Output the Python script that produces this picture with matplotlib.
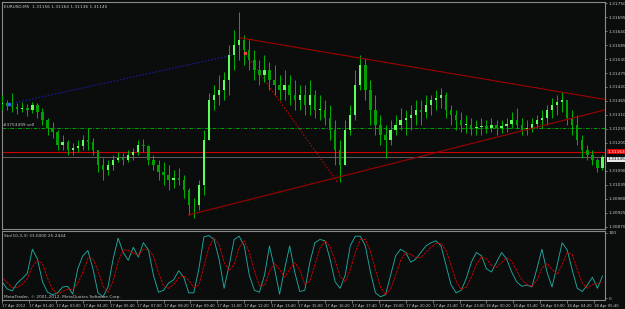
import numpy as np
import matplotlib.pyplot as plt

# EURUSD M5, 17-18 Apr 2012. One entry per 15 minutes (3 M5 bars).
# Prices are given in points (0.00001) above 1.30000.
first_open_pt = 1361
highs_pt = [1369, 1389, 1369, 1397, 1357, 1361, 1353, 1361, 1357, 1338,
            1298, 1283, 1251, 1231, 1212, 1200, 1212, 1231, 1259, 1220,
            1173, 1141, 1133, 1153, 1165, 1161, 1173, 1180, 1212, 1216,
            1192, 1153, 1133, 1125, 1114, 1094, 1102, 1074, 1023, 984,
            1055, 1251, 1397, 1428, 1467, 1479, 1585, 1644, 1715, 1624,
            1605, 1566, 1526, 1546, 1518, 1507, 1467, 1487, 1467, 1448,
            1428, 1428, 1448, 1408, 1389, 1369, 1349, 1290, 1212, 1290,
            1349, 1487, 1546, 1534, 1448, 1389, 1310, 1271, 1290, 1310,
            1338, 1330, 1349, 1369, 1369, 1389, 1389, 1408, 1416, 1400,
            1349, 1330, 1322, 1310, 1298, 1290, 1298, 1290, 1298, 1290,
            1290, 1298, 1322, 1338, 1298, 1290, 1298, 1310, 1330, 1349,
            1377, 1389, 1400, 1369, 1330, 1310, 1231, 1192, 1173, 1141,
            1153]
lows_pt = [1338, 1330, 1330, 1322, 1314, 1322, 1306, 1318, 1298, 1271,
           1231, 1220, 1173, 1173, 1153, 1153, 1165, 1173, 1173, 1153,
           1086, 1055, 1074, 1094, 1125, 1114, 1125, 1133, 1153, 1165,
           1114, 1094, 1055, 1035, 1015, 1023, 1035, 984, 917, 905,
           937, 996, 1212, 1330, 1349, 1369, 1389, 1487, 1526, 1507,
           1487, 1448, 1428, 1440, 1408, 1389, 1369, 1369, 1349, 1330,
           1330, 1310, 1310, 1298, 1290, 1271, 1212, 1114, 1047, 1114,
           1231, 1290, 1408, 1369, 1271, 1231, 1192, 1141, 1192, 1231,
           1251, 1231, 1251, 1271, 1271, 1298, 1310, 1330, 1338, 1298,
           1271, 1251, 1243, 1239, 1231, 1231, 1231, 1239, 1243, 1231,
           1239, 1243, 1259, 1259, 1231, 1231, 1243, 1259, 1259, 1271,
           1298, 1310, 1322, 1271, 1231, 1192, 1141, 1133, 1114, 1086,
           1094]
closes_pt = [1353, 1357, 1345, 1341, 1334, 1338, 1330, 1349, 1322, 1290,
             1259, 1243, 1192, 1204, 1173, 1180, 1188, 1212, 1204, 1173,
             1114, 1094, 1114, 1133, 1141, 1133, 1153, 1165, 1192, 1188,
             1133, 1114, 1086, 1074, 1055, 1063, 1055, 1015, 956, 956,
             1035, 1212, 1369, 1389, 1408, 1448, 1546, 1585, 1605, 1566,
             1526, 1487, 1467, 1487, 1448, 1428, 1408, 1428, 1389, 1369,
             1389, 1349, 1389, 1330, 1330, 1298, 1251, 1173, 1114, 1251,
             1310, 1428, 1507, 1408, 1330, 1271, 1231, 1212, 1251, 1271,
             1290, 1298, 1310, 1330, 1322, 1349, 1369, 1377, 1389, 1330,
             1310, 1290, 1271, 1271, 1259, 1263, 1267, 1259, 1271, 1259,
             1267, 1275, 1290, 1271, 1251, 1259, 1275, 1290, 1298, 1330,
             1349, 1361, 1369, 1298, 1271, 1212, 1173, 1153, 1133, 1102,
             1145]

# Stochastic (10,3,3): main and signal, same 15 minute steps
stoch_main = [35, 25, 14, 11, 23, 30, 38, 75, 60, 25,
              9, 5, 8, 17, 18, 6, 45, 65, 73, 45,
              8, 2, 17, 60, 92, 70, 58, 78, 63, 85,
              74, 35, 9, 12, 23, 28, 42, 32, 8, 8,
              45, 94, 96, 90, 60, 15, 50, 90, 95, 80,
              35, 12, 9, 35, 80, 45, 6, 45, 80, 40,
              10, 12, 55, 85, 90, 88, 60, 25, 15, 35,
              80, 95, 95, 80, 40, 8, 2, 5, 35, 65,
              75, 70, 55, 60, 70, 80, 85, 88, 80, 50,
              20, 8, 12, 30, 55, 70, 65, 45, 40, 55,
              70, 60, 40, 25, 18, 20, 17, 45, 75, 40,
              17, 50, 85, 74, 43, 15, 10, 20, 32, 15,
              34]
stoch_signal = [40, 32, 24, 16, 16, 21, 30, 48, 58, 53,
                31, 13, 7, 10, 14, 13, 23, 39, 61, 61,
                42, 18, 9, 26, 56, 74, 73, 69, 66, 75,
                74, 65, 39, 19, 15, 21, 31, 34, 27, 16,
                20, 49, 78, 93, 82, 55, 42, 52, 78, 88,
                70, 42, 19, 19, 41, 53, 44, 32, 44, 55,
                43, 21, 26, 51, 77, 88, 79, 58, 33, 25,
                43, 70, 90, 90, 72, 43, 17, 5, 14, 35,
                58, 70, 67, 62, 62, 70, 78, 84, 84, 73,
                50, 26, 13, 17, 32, 52, 63, 60, 50, 47,
                55, 62, 57, 42, 28, 21, 18, 27, 46, 53,
                44, 36, 51, 70, 67, 44, 23, 15, 21, 22,
                25]

# time axis: M5 bar index counted from 17 Apr 00:00
time_ticks = [3.94] + list(range(20, 357, 16))
time_labels = ["17 Apr 2012", "17 Apr 01:40", "17 Apr 03:00", "17 Apr 04:20",
               "17 Apr 05:40", "17 Apr 07:00", "17 Apr 08:20", "17 Apr 09:40",
               "17 Apr 11:00", "17 Apr 12:20", "17 Apr 13:40", "17 Apr 15:00",
               "17 Apr 16:20", "17 Apr 17:40", "17 Apr 19:00", "17 Apr 20:20",
               "17 Apr 21:40", "17 Apr 23:00", "18 Apr 00:20", "18 Apr 01:40",
               "18 Apr 03:00", "18 Apr 04:20", "18 Apr 05:40"]
price_ticks = [1.30870, 1.30925, 1.30980, 1.31035, 1.31090, 1.31200,
               1.31255, 1.31310, 1.31365, 1.31420, 1.31475, 1.31530,
               1.31585, 1.31640, 1.31695, 1.31750]

# objects drawn on the chart: (bar index, price)
upper_trend = [(145.7, 1.31613), (362.5, 1.31371)]
lower_trend = [(114.8, 1.30917), (362.5, 1.31330)]
order_line_blue = [(8.2, 1.31353), (141.5, 1.31546)]
order_line_red = [(148.6, 1.31554), (203.7, 1.31043)]
red_level = 1.31163
bid_level = 1.31145
sell_level = 1.31259

BG = "#0a0d0c"
FRAME = "#8a8a8a"
TXT = "#c8c8c8"
FONT = ["Liberation Sans Narrow", "DejaVu Sans"]
FS = 3.1

plt.rcParams["font.family"] = FONT

highs = 1.30 + np.array(highs_pt) / 1e5
lows = 1.30 + np.array(lows_pt) / 1e5
closes = 1.30 + np.array(closes_pt) / 1e5
opens = np.concatenate([[1.30 + first_open_pt / 1e5], closes[:-1]])
bars = np.arange(len(closes)) * 3 + 1

fig = plt.figure(figsize=(6.25, 3.09), dpi=100, facecolor=BG)
ax = fig.add_axes([2 / 625, 1 - 229 / 309, 603 / 625, 227 / 309], facecolor=BG)
ax2 = fig.add_axes([2 / 625, 1 - 300 / 309, 603 / 625, 69 / 309], facecolor=BG)

# candles
up = closes >= opens
ax.vlines(bars, lows, highs, color="#00b400", lw=0.7, zorder=3)
body_bot = np.minimum(opens, closes)
body_h = np.maximum(np.abs(closes - opens), 0.00002)
ax.bar(bars[up], body_h[up], bottom=body_bot[up], width=1.4,
       color="#5cff5c", zorder=4, linewidth=0)
ax.bar(bars[~up], body_h[~up], bottom=body_bot[~up], width=1.4,
       color="#00a000", zorder=4, linewidth=0)

# trend lines and order lines
for line in (upper_trend, lower_trend):
    xs, ys = zip(*line)
    ax.plot(xs, ys, color="#a00000", lw=0.8, zorder=5)
xs, ys = zip(*order_line_blue)
ax.plot(xs, ys, color="#1a1aa0", lw=0.8, ls=(0, (1.5, 1.5)), zorder=2)
xs, ys = zip(*order_line_red)
ax.plot(xs, ys, color="#c00000", lw=0.8, ls=(0, (1.5, 1.5)), zorder=2)
ax.plot(order_line_blue[0][0], order_line_blue[0][1], "s", ms=2, color="#3060ff", zorder=6)
ax.plot(order_line_red[0][0], order_line_red[0][1], "s", ms=2, color="#ff4040", zorder=6)

ax.axhline(red_level, color="#d00000", lw=0.8, zorder=2)
ax.axhline(bid_level, color="#606060", lw=0.7, zorder=1)
ax.axhline(sell_level, color="#00a000", lw=0.7, ls=(0, (4, 1.5, 1, 1.5)), zorder=1)
ax.text(4.5, sell_level + 0.00004, "#3753499 sell", color=TXT, fontsize=FS, va="bottom")

ax.set_xlim(3.94, 362.5)
ax.set_ylim(1.30862, 1.31754)
ax.set_xticks([])
ax.yaxis.tick_right()
ax.set_yticks(price_ticks)
ax.set_yticklabels([f"{p:.5f}" for p in price_ticks])
ax.tick_params(axis="y", colors=FRAME, labelcolor=TXT, labelsize=FS, length=1.5, width=0.6, pad=1)
for s in ax.spines.values():
    s.set_color(FRAME)
    s.set_linewidth(0.8)

# price labels on the axis
ax.annotate(f"{red_level:.5f}", xy=(1, red_level), xycoords=("axes fraction", "data"),
            xytext=(1.5, 0.5), textcoords="offset points", fontsize=FS, color="white",
            va="center", bbox=dict(boxstyle="square,pad=0.12", fc="#e00000", ec="none"))
ax.annotate(f"{bid_level:.5f}", xy=(1, bid_level), xycoords=("axes fraction", "data"),
            xytext=(1.5, -1.5), textcoords="offset points", fontsize=FS, color="black",
            va="center", bbox=dict(boxstyle="square,pad=0.12", fc="#e8e8e8", ec="none"))

ax.text(0.004, 0.985, "EURUSD,M5  1.31156 1.31164 1.31136 1.31145", transform=ax.transAxes,
        color=TXT, fontsize=FS, va="top")

# stochastic panel
ax2.plot(bars, stoch_main, color="#1fa8a0", lw=0.65)
ax2.plot(bars, stoch_signal, color="#d00000", lw=0.65, ls=(0, (3, 1)))
ax2.set_xlim(3.94, 362.5)
ax2.set_ylim(-3, 103)
ax2.yaxis.tick_right()
ax2.set_yticks([0, 100])
ax2.set_yticklabels(["0", "100"])
ax2.set_xticks(time_ticks)
ax2.set_xticklabels(time_labels, ha="left")
ax2.tick_params(axis="y", colors=FRAME, labelcolor=TXT, labelsize=FS, length=1.5, width=0.6, pad=1)
ax2.tick_params(axis="x", colors=FRAME, labelcolor=TXT, labelsize=2.7, length=2, width=0.6, pad=0.8)
for s in ax2.spines.values():
    s.set_color(FRAME)
    s.set_linewidth(0.8)
ax2.text(0.004, 0.96, "Sto(10,3,3) 33.6000 25.2444", transform=ax2.transAxes,
         color=TXT, fontsize=FS, va="top")
ax2.text(0.004, 0.02, "MetaTrader, \u00a9 2001-2012, MetaQuotes Software Corp.",
         transform=ax2.transAxes, color=TXT, fontsize=FS, va="bottom")

fig.savefig("out.png", dpi=100, facecolor=BG)
